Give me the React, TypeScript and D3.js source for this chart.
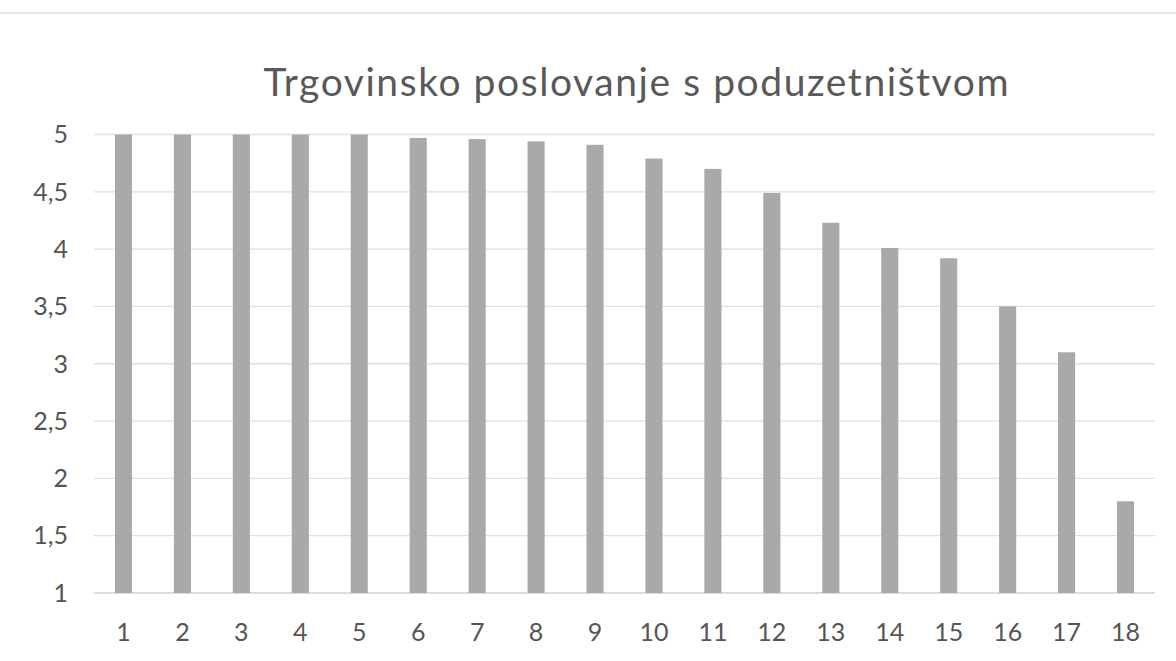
import React from "react";
import * as d3 from "d3";

const categories: string[] = ["1","2","3","4","5","6","7","8","9","10","11","12","13","14","15","16","17","18"];
const values: number[] = [5, 5, 5, 5, 5, 4.97, 4.96, 4.94, 4.91, 4.79, 4.7, 4.49, 4.23, 4.01, 3.92, 3.5, 3.1, 1.8];
const yTicks: number[] = [1, 1.5, 2, 2.5, 3, 3.5, 4, 4.5, 5];
const title = "Trgovinsko poslovanje s poduzetništvom";

const W = 1176;
const H = 661;
const margin = { left: 94, right: 21, top: 134.5, bottom: 68 };

export default function App() {
  const x = d3
    .scaleBand<string>()
    .domain(categories)
    .range([margin.left, W - margin.right])
    .paddingInner(0.71)
    .paddingOuter(0.355);
  const y = d3.scaleLinear().domain([1, 5]).range([H - margin.bottom, margin.top]);
  const fmt = (v: number) => String(v).replace(".", ",");
  const font = "Lato, 'Open Sans', sans-serif";

  return (
    <svg
      width={W}
      height={H}
      style={{ position: "absolute", left: 0, top: 0, background: "#fff" }}
      fontFamily={font}
    >
      <rect x={0} y={0} width={W} height={H} fill="#ffffff" />
      <line x1={0} x2={W} y1={13} y2={13} stroke="#e4e4e4" strokeWidth={2} />
      <text
        x={636}
        y={96}
        textAnchor="middle"
        fontSize={39}
        fill="#595959"
        textLength={745}
        lengthAdjust="spacing"
      >
        {title}
      </text>
      {yTicks.map((t) => (
        <g key={t}>
          <line
            x1={margin.left}
            x2={W - margin.right}
            y1={y(t)}
            y2={y(t)}
            stroke={t === 1 ? "#d0d0d0" : "#e0e0e0"}
            strokeWidth={1.3}
          />
          <text
            x={68}
            y={y(t)}
            dy="0.35em"
            textAnchor="end"
            fontSize={25}
            fill="#555555"
          >
            {fmt(t)}
          </text>
        </g>
      ))}
      {categories.map((c, i) => (
        <rect
          key={c}
          x={x(c)}
          y={y(values[i])}
          width={x.bandwidth()}
          height={y(1) - y(values[i])}
          fill="#a9a9a9"
        />
      ))}
      {categories.map((c) => (
        <text
          key={"l" + c}
          x={(x(c) as number) + x.bandwidth() / 2}
          y={641}
          textAnchor="middle"
          fontSize={25}
          fill="#555555"
        >
          {c}
        </text>
      ))}
    </svg>
  );
}
